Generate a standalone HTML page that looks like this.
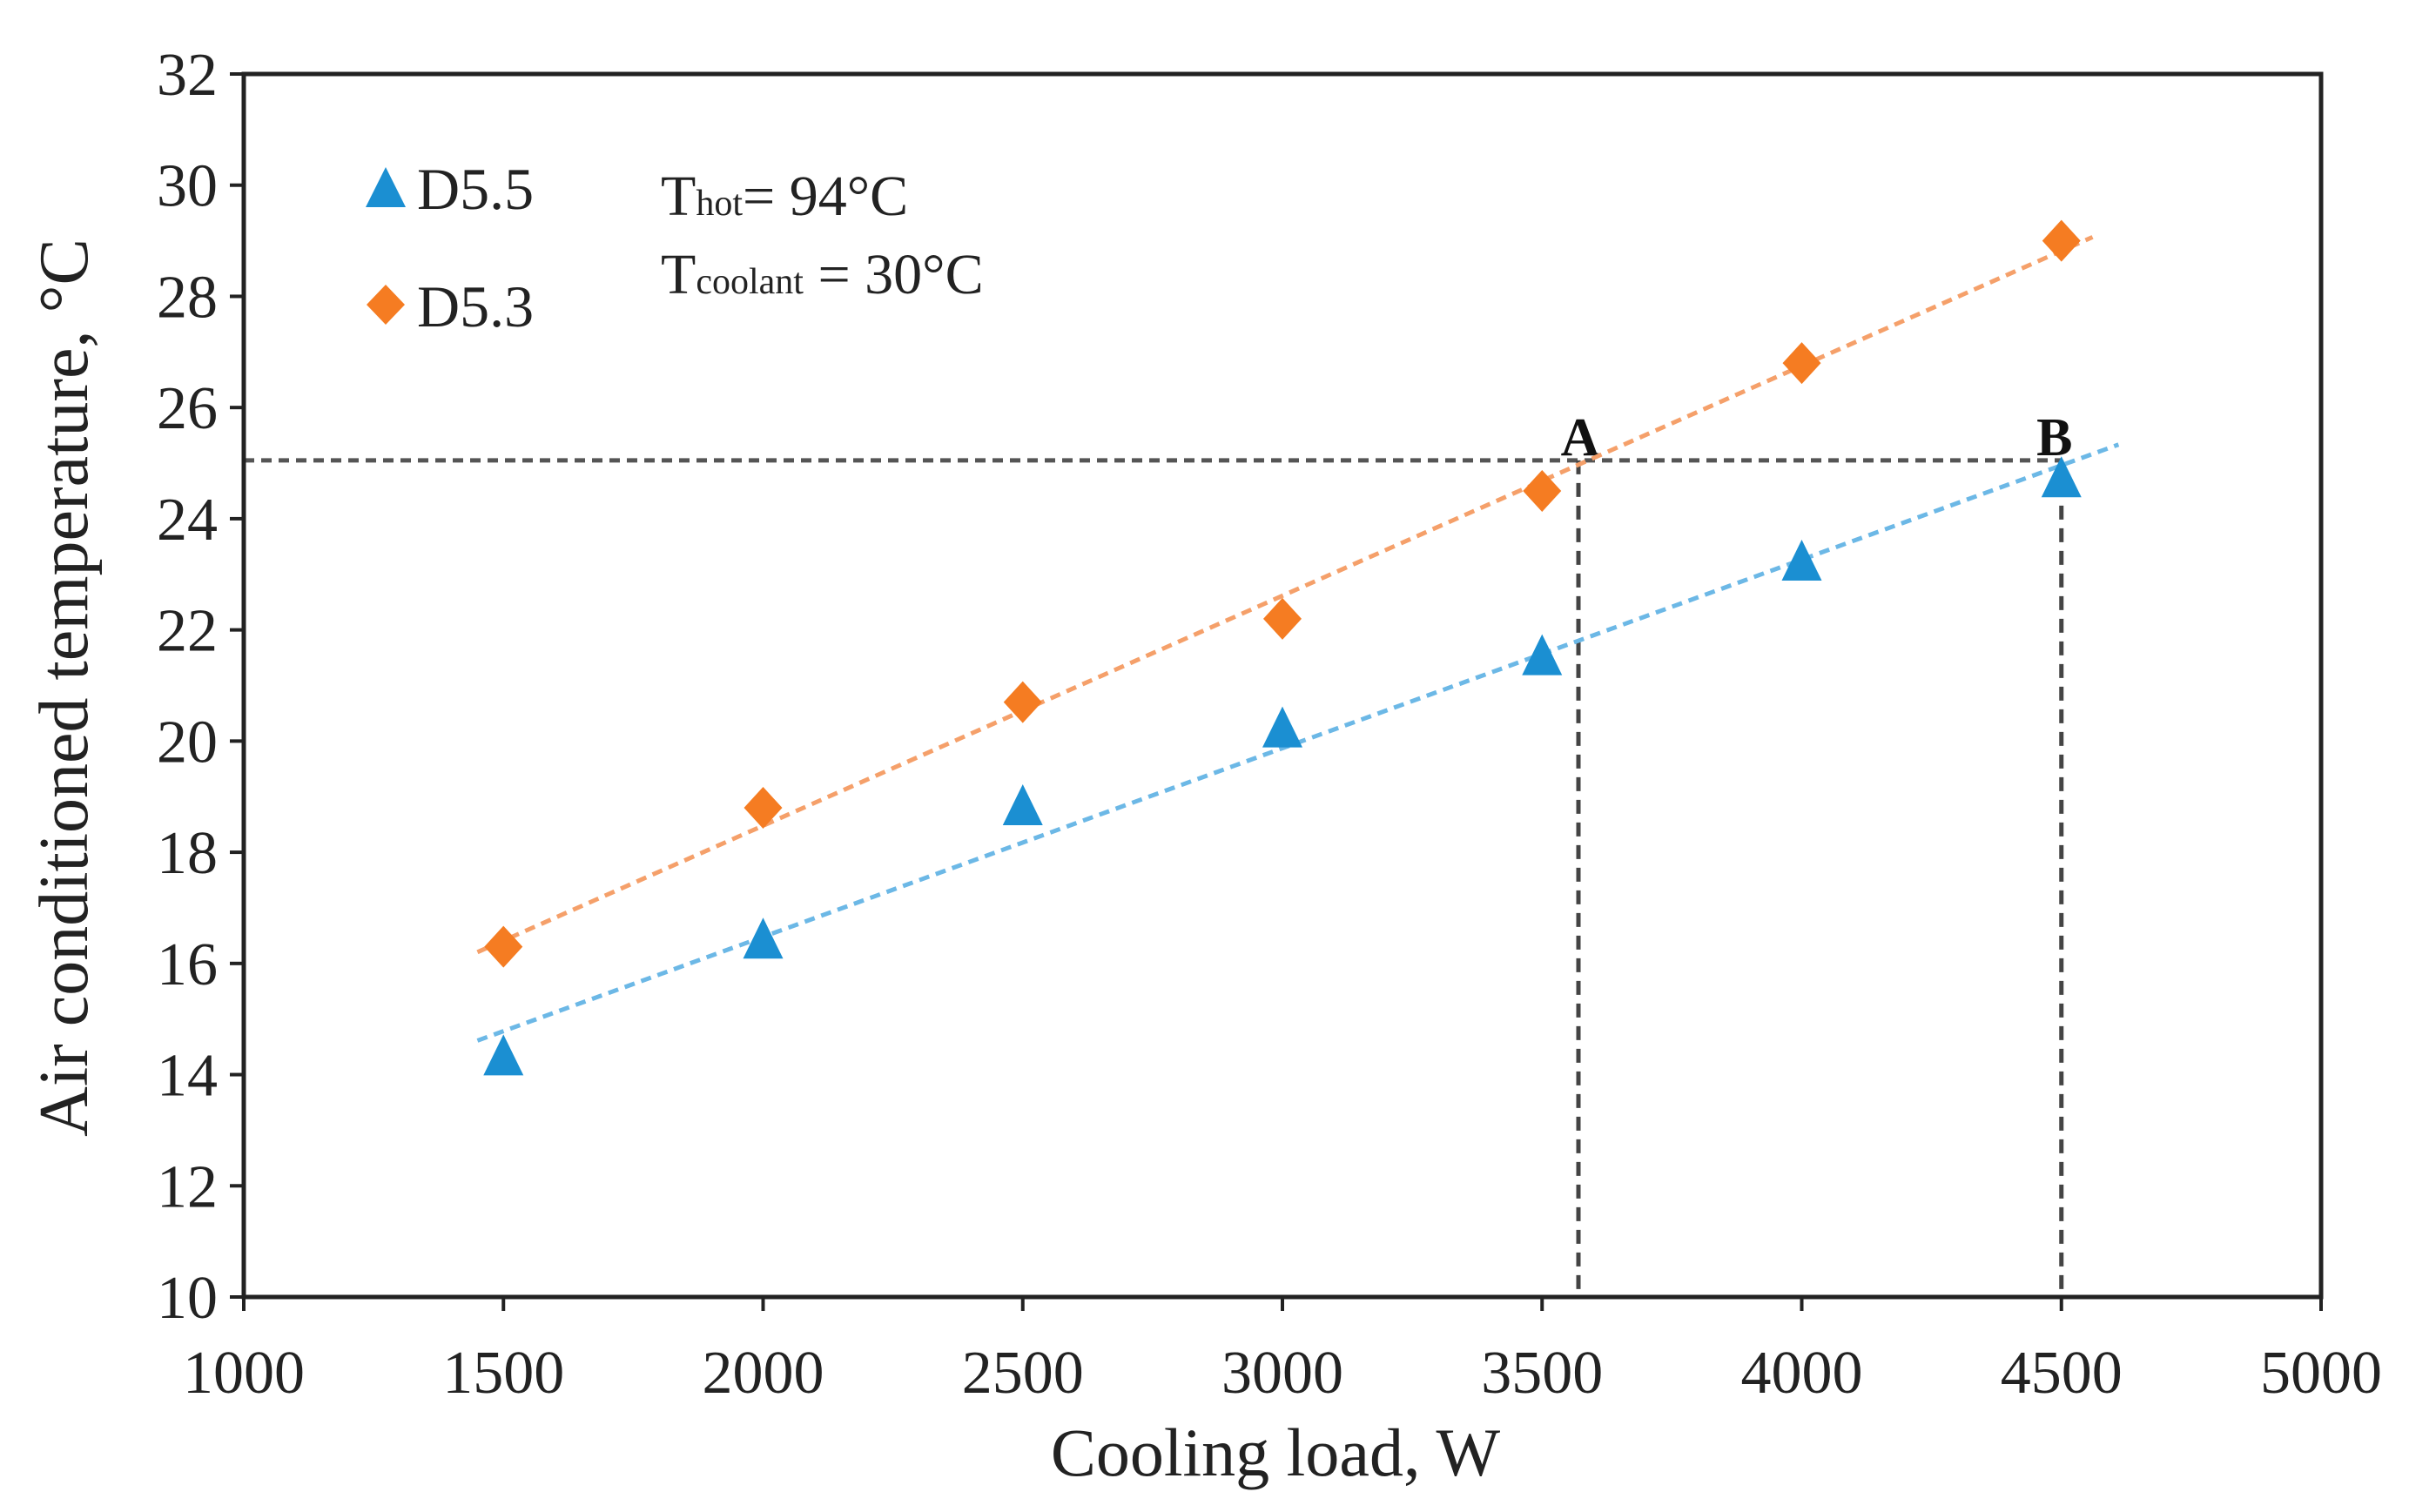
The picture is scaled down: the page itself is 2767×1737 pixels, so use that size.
<!DOCTYPE html>
<html><head><meta charset="utf-8"><style>
html,body{margin:0;padding:0;background:#fff;}
svg{display:block;font-family:"Liberation Serif",serif;}
</style></head><body>
<svg id="chart" width="2767" height="1737" viewBox="0 0 2767 1737" xmlns="http://www.w3.org/2000/svg">
<rect width="2767" height="1737" fill="#fff"/>
<g id="grid"></g>
<g id="marks"></g>
<g id="axes"></g>
<g id="legend">
  <polygon points="443,192 420,238 466,238" fill="#1b8fd2"/>
  <text x="479" y="240" font-size="68" fill="#222">D5.5</text>
  <polygon points="443,327 465,350 443,373 421,350" fill="#f57c22"/>
  <text x="479" y="375" font-size="68" fill="#222">D5.3</text>
</g>
<text x="759" y="247" font-size="66" fill="#222">T<tspan font-size="42">hot</tspan>= 94°C</text>
<text x="759" y="337" font-size="66" fill="#222">T<tspan font-size="42">coolant</tspan> = 30°C</text>
<text x="1465" y="1695" font-size="78" text-anchor="middle" fill="#222">Cooling load, W</text>
<text transform="translate(100,790) rotate(-90)" font-size="80" text-anchor="middle" fill="#222">Air conditioned temperature, °C</text>
</svg>
<script>
const xTicks = [1000,1500,2000,2500,3000,3500,4000,4500,5000];
const yTicks = [10,12,14,16,18,20,22,24,26,28,30,32];
const loads = [1500,2000,2500,3000,3500,4000,4500];
const d55 = [14.3,16.4,18.8,20.2,21.5,23.2,24.7];
const d53 = [16.3,18.8,20.7,22.2,24.5,26.8,29.0];
const refY = 25.05;
const refXA = 3570;
const refXB = 4500;

const L=280,R=2666,T=85,B=1490;
const X=v=>L+(v-1000)/(5000-1000)*(R-L);
const Y=v=>B-(v-10)/(32-10)*(B-T);
const NS="http://www.w3.org/2000/svg";
function mk(tag,attrs,parent){const e=document.createElementNS(NS,tag);for(const k in attrs)e.setAttribute(k,attrs[k]);parent.appendChild(e);return e;}
const axes=document.getElementById('axes'), marks=document.getElementById('marks'), grid=document.getElementById('grid');

let fr=mk('rect',{x:L,y:T,width:R-L,height:B-T,fill:'none',stroke:'#222','stroke-width':5},axes);


xTicks.forEach(v=>{
  let t=mk('line',{x1:X(v),x2:X(v),y1:B,y2:B+16,stroke:'#222','stroke-width':4},axes);
  
  
  let l=mk('text',{x:X(v),y:1600,'font-size':70,'text-anchor':'middle',fill:'#222'},axes);
  l.textContent=v;
  
  
});
yTicks.forEach(v=>{
  let t=mk('line',{x1:L-16,x2:L,y1:Y(v),y2:Y(v),stroke:'#222','stroke-width':4},axes);
  
  
  let l=mk('text',{x:250,y:Y(v)+24,'font-size':70,'text-anchor':'end',fill:'#222'},axes);
  l.textContent=v;
  
  
});

let h=mk('line',{x1:L,x2:X(refXB),y1:Y(refY),y2:Y(refY),stroke:'#555','stroke-width':5,'stroke-dasharray':'12,8'},grid);


let va=mk('line',{x1:X(refXA),x2:X(refXA),y1:Y(refY),y2:B,stroke:'#444','stroke-width':5,'stroke-dasharray':'16,10'},grid);


let vb=mk('line',{x1:X(refXB),x2:X(refXB),y1:Y(refY),y2:B,stroke:'#444','stroke-width':5,'stroke-dasharray':'16,10'},grid);


let la=mk('text',{x:X(refXA)+2,y:Y(refY)-6,'font-size':62,'font-weight':'bold','text-anchor':'middle',fill:'#111'},grid);
la.textContent='A';


let lb=mk('text',{x:X(refXB)-8,y:Y(refY)-6,'font-size':62,'font-weight':'bold','text-anchor':'middle',fill:'#111'},grid);
lb.textContent='B';



function fit(xs,ys){const n=xs.length;const mx=xs.reduce((a,b)=>a+b)/n,my=ys.reduce((a,b)=>a+b)/n;let sxy=0,sxx=0;xs.forEach((x,i)=>{sxy+=(x-mx)*(ys[i]-my);sxx+=(x-mx)**2;});const m=sxy/sxx;return [m,my-m*mx];}
function trend(ys,color,name,x0,x1){
  const [m,b]=fit(loads,ys);
  let l=mk('line',{x1:X(x0),y1:Y(m*x0+b),x2:X(x1),y2:Y(m*x1+b),stroke:color,'stroke-width':5,'stroke-dasharray':'12,8'},marks);
  
  
}
trend(d53,'#f5a06a','trendline-d53',1450,4560);
trend(d55,'#6cb8e6','trendline-d55',1450,4610);

loads.forEach((x,i)=>{
  const cx=X(x),cy=Y(d55[i]);
  let p=mk('polygon',{points:`${cx},${cy-27} ${cx-23},${cy+20} ${cx+23},${cy+20}`,fill:'#1b8fd2'},marks);
  
  
  const dx=X(x),dy=Y(d53[i]);
  let d=mk('polygon',{points:`${dx},${dy-24} ${dx+22},${dy} ${dx},${dy+24} ${dx-22},${dy}`,fill:'#f57c22'},marks);
  
  
});
</script>
</body></html>
